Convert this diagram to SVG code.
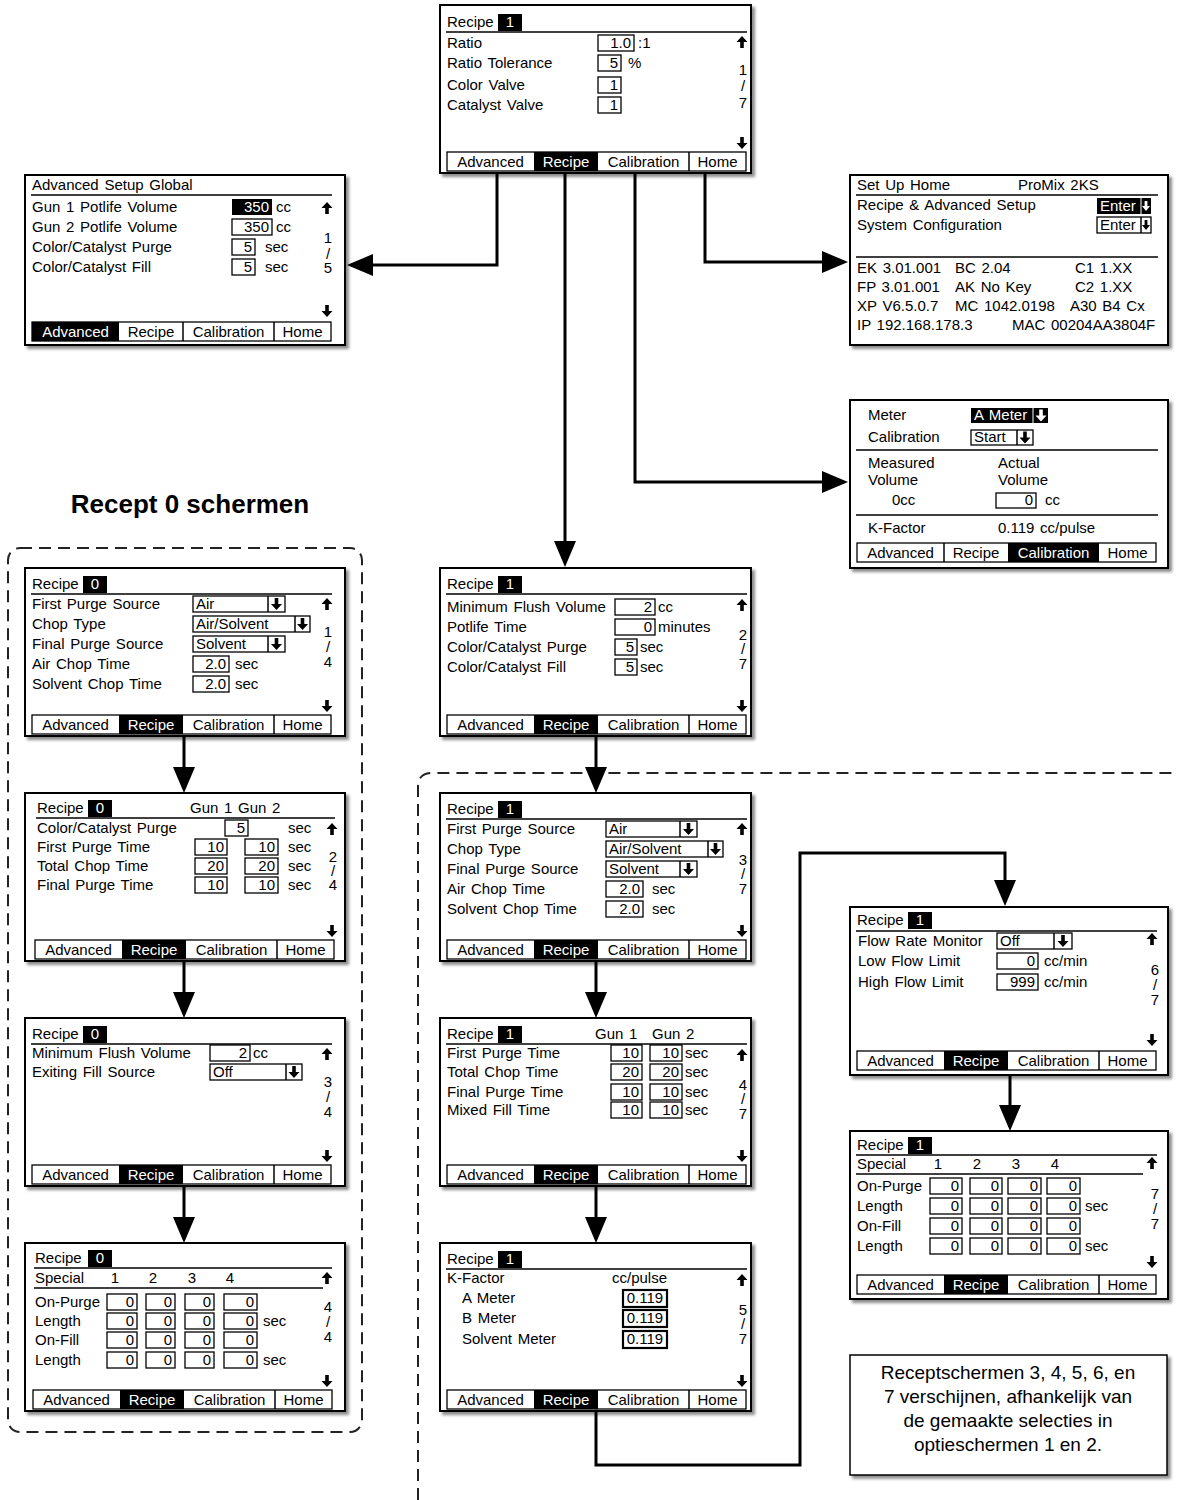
<svg xmlns="http://www.w3.org/2000/svg" width="1177" height="1500" viewBox="0 0 1177 1500">
<defs>
<style>
text{font-family:"Liberation Sans",Arial,sans-serif;font-size:15px;fill:#000;word-spacing:1.5px}
.w{fill:#fff}
.r{text-anchor:end}
.m{text-anchor:middle}
.scr{fill:#fff;stroke:#000;stroke-width:2;filter:url(#sh)}
.bx{fill:#fff;stroke:#000;stroke-width:1.3}
.bx2{fill:#fff;stroke:#000;stroke-width:2.2}
.ln{stroke:#000;stroke-width:1.5;fill:none}
.con{fill:none;stroke:#000;stroke-width:3;marker-end:url(#ah)}
.dash{fill:none;stroke:#222;stroke-width:2;stroke-dasharray:12 7}
.big{font-size:26px;font-weight:bold;word-spacing:0}
.note{font-size:19px;word-spacing:0}
</style>
<filter id="sh" x="-5%" y="-5%" width="115%" height="115%">
<feDropShadow dx="3" dy="3" stdDeviation="1.8" flood-color="#000" flood-opacity="0.45"/>
</filter>
<marker id="ah" viewBox="0 0 26 22" refX="22" refY="11" markerWidth="26" markerHeight="22" markerUnits="userSpaceOnUse" orient="auto">
<path d="M0,0 L26,11 L0,22 Z" fill="#000"/>
</marker>
<path id="up" d="M0,0 L5.5,6 L1.8,6 L1.8,12 L-1.8,12 L-1.8,6 L-5.5,6 Z"/>
<path id="dn" d="M0,12 L5.5,6 L1.8,6 L1.8,0 L-1.8,0 L-1.8,6 L-5.5,6 Z"/>
<path id="dn2" d="M0,10 L4,5 L1.4,5 L1.4,0 L-1.4,0 L-1.4,5 L-4,5 Z"/>
<g id="ttl0"><text x="7" y="21">Recipe</text><rect x="58" y="8" width="24" height="17"/><text x="70" y="21" class="m w">0</text><line x1="6" y1="26" x2="307" y2="26" class="ln"/></g>
<g id="ttl1"><text x="7" y="21">Recipe</text><rect x="58" y="8" width="24" height="17"/><text x="70" y="21" class="m w">1</text><line x1="6" y1="26" x2="307" y2="26" class="ln"/></g>
<g id="tabsR">
<rect x="7" y="147" width="299" height="19" class="bx"/>
<rect x="94" y="147" width="64" height="19"/>
<line x1="249" y1="147" x2="249" y2="166" class="ln"/>
<text x="50.5" y="162" class="m">Advanced</text>
<text x="126" y="162" class="m w">Recipe</text>
<text x="203.5" y="162" class="m">Calibration</text>
<text x="277.5" y="162" class="m">Home</text>
</g>
<g id="tabsA">
<rect x="7" y="147" width="299" height="19" class="bx"/>
<rect x="7" y="147" width="87" height="19"/>
<line x1="158" y1="147" x2="158" y2="166" class="ln"/>
<line x1="249" y1="147" x2="249" y2="166" class="ln"/>
<text x="50.5" y="162" class="m w">Advanced</text>
<text x="126" y="162" class="m">Recipe</text>
<text x="203.5" y="162" class="m">Calibration</text>
<text x="277.5" y="162" class="m">Home</text>
</g>
<g id="tabsC">
<rect x="7" y="147" width="299" height="19" class="bx"/>
<rect x="158" y="147" width="91" height="19"/>
<line x1="94" y1="147" x2="94" y2="166" class="ln"/>
<text x="50.5" y="162" class="m">Advanced</text>
<text x="126" y="162" class="m">Recipe</text>
<text x="203.5" y="162" class="m w">Calibration</text>
<text x="277.5" y="162" class="m">Home</text>
</g>
</defs>

<rect width="1177" height="1500" fill="#fff"/>

<g id="groups">
<rect class="dash" x="8" y="548" width="354" height="884" rx="12"/>
<path class="dash" d="M418,1500 V787 Q418,773 432,773 H1177"/>
<text x="190" y="513" class="big m">Recept 0 schermen</text>
</g>

<g id="connectors">
<path class="con" d="M497,173 V265 H351"/>
<path class="con" d="M565,173 V563"/>
<path class="con" d="M635,173 V482 H844"/>
<path class="con" d="M705,173 V262 H844"/>
<path class="con" d="M184,736 V789"/>
<path class="con" d="M184,961 V1014"/>
<path class="con" d="M184,1186 V1239"/>
<path class="con" d="M596,736 V789"/>
<path class="con" d="M596,961 V1014"/>
<path class="con" d="M596,1186 V1239"/>
<path class="con" d="M596,1411 V1465 H800 V853 H1005 V902"/>
<path class="con" d="M1010,1075 V1127"/>
</g>

<g id="scr-top" transform="translate(440,5)">
<rect class="scr" width="311" height="168"/>
<text x="7" y="22">Recipe</text><rect x="58" y="9" width="24" height="17"/><text x="70" y="22" class="m w">1</text>
<line x1="6" y1="27" x2="307" y2="27" class="ln"/>
<text x="7" y="43">Ratio</text>
<rect x="158" y="30" width="36" height="16" class="bx"/><text x="191" y="43" class="r">1.0</text><text x="198" y="43">:1</text>
<text x="7" y="63">Ratio Tolerance</text>
<rect x="158" y="50" width="23" height="16" class="bx"/><text x="178" y="63" class="r">5</text><text x="188" y="63">%</text>
<text x="7" y="85">Color Valve</text>
<rect x="158" y="72" width="23" height="16" class="bx"/><text x="178" y="85" class="r">1</text>
<text x="7" y="105">Catalyst Valve</text>
<rect x="158" y="92" width="23" height="16" class="bx"/><text x="178" y="105" class="r">1</text>
<use href="#up" x="302" y="31"/><use href="#dn" x="302" y="132"/>
<text x="303" y="70" class="m">1</text><text x="303" y="86" class="m">/</text><text x="303" y="103" class="m">7</text>
<use href="#tabsR"/>
</g>

<g id="scr-adv" transform="translate(25,175)">
<rect class="scr" width="320" height="170"/>
<text x="7" y="15">Advanced Setup Global</text>
<line x1="6" y1="20" x2="307" y2="20" class="ln"/>
<text x="7" y="37">Gun 1 Potlife Volume</text>
<rect x="207" y="24" width="40" height="16"/><text x="244" y="37" class="r w">350</text><text x="251" y="37">cc</text>
<text x="7" y="57">Gun 2 Potlife Volume</text>
<rect x="207" y="44" width="40" height="16" class="bx"/><text x="244" y="57" class="r">350</text><text x="251" y="57">cc</text>
<text x="7" y="77">Color/Catalyst Purge</text>
<rect x="207" y="64" width="23" height="16" class="bx"/><text x="227" y="77" class="r">5</text><text x="240" y="77">sec</text>
<text x="7" y="97">Color/Catalyst Fill</text>
<rect x="207" y="84" width="23" height="16" class="bx"/><text x="227" y="97" class="r">5</text><text x="240" y="97">sec</text>
<use href="#up" x="302" y="27"/><use href="#dn" x="302" y="130"/>
<text x="303" y="68" class="m">1</text><text x="303" y="84" class="m">/</text><text x="303" y="98" class="m">5</text>
<use href="#tabsA"/>
</g>

<g id="scr-home" transform="translate(850,175)">
<rect class="scr" width="318" height="170"/>
<text x="7" y="15">Set Up Home</text><text x="168" y="15">ProMix 2KS</text>
<line x1="6" y1="20" x2="308" y2="20" class="ln"/>
<text x="7" y="35">Recipe &amp; Advanced Setup</text>
<rect x="247" y="23" width="54" height="16"/><text x="250" y="36" class="w">Enter</text>
<line x1="291" y1="23" x2="291" y2="39" stroke="#fff" stroke-width="1"/><use href="#dn2" x="296" y="26" fill="#fff"/>
<text x="7" y="55">System Configuration</text>
<rect x="247" y="42" width="54" height="16" class="bx"/><text x="250" y="55">Enter</text>
<line x1="291" y1="42" x2="291" y2="58" class="ln"/><use href="#dn2" x="296" y="45"/>
<line x1="6" y1="82" x2="308" y2="82" class="ln"/>
<text x="7" y="98">EK 3.01.001</text><text x="105" y="98">BC 2.04</text><text x="225" y="98">C1 1.XX</text>
<text x="7" y="117">FP 3.01.001</text><text x="105" y="117">AK No Key</text><text x="225" y="117">C2 1.XX</text>
<text x="7" y="136">XP V6.5.0.7</text><text x="105" y="136">MC 1042.0198</text><text x="220" y="136">A30 B4 Cx</text>
<text x="7" y="155">IP 192.168.178.3</text><text x="162" y="155">MAC 00204AA3804F</text>
</g>

<g id="scr-cal" transform="translate(850,400)">
<rect class="scr" width="318" height="168"/>
<text x="18" y="20">Meter</text>
<rect x="121" y="8" width="77" height="15"/><text x="124" y="20" class="w">A Meter</text>
<line x1="183" y1="8" x2="183" y2="23" stroke="#fff" stroke-width="1"/><use href="#dn" x="191" y="9.5" fill="#fff"/>
<text x="18" y="42">Calibration</text>
<rect x="121" y="30" width="62" height="15" class="bx"/><text x="124" y="42">Start</text>
<line x1="167" y1="30" x2="167" y2="45" class="ln"/><use href="#dn" x="175" y="31.5"/>
<line x1="6" y1="50" x2="308" y2="50" class="ln"/>
<text x="18" y="68">Measured</text><text x="18" y="85">Volume</text>
<text x="148" y="68">Actual</text><text x="148" y="85">Volume</text>
<text x="42" y="105">0cc</text>
<rect x="146" y="93" width="40" height="15" class="bx"/><text x="183" y="105" class="r">0</text><text x="195" y="105">cc</text>
<line x1="6" y1="115" x2="308" y2="115" class="ln"/>
<text x="18" y="133">K-Factor</text><text x="148" y="133">0.119 cc/pulse</text>
<use href="#tabsC" y="-4"/>
</g>

<g id="scr-r0-p1" transform="translate(25,568)">
<rect class="scr" width="320" height="168"/>
<use href="#ttl0"/>
<text x="7" y="41">First Purge Source</text>
<rect x="168" y="28" width="92" height="16" class="bx"/><text x="171" y="41">Air</text><line x1="243" y1="28" x2="243" y2="44" class="ln"/><use href="#dn" x="251.5" y="30"/>
<text x="7" y="61">Chop Type</text>
<rect x="168" y="48" width="117" height="16" class="bx"/><text x="171" y="61">Air/Solvent</text><line x1="270" y1="48" x2="270" y2="64" class="ln"/><use href="#dn" x="277.5" y="50"/>
<text x="7" y="81">Final Purge Source</text>
<rect x="168" y="68" width="92" height="16" class="bx"/><text x="171" y="81">Solvent</text><line x1="243" y1="68" x2="243" y2="84" class="ln"/><use href="#dn" x="251.5" y="70"/>
<text x="7" y="101">Air Chop Time</text>
<rect x="168" y="88" width="36" height="16" class="bx"/><text x="201" y="101" class="r">2.0</text><text x="210" y="101">sec</text>
<text x="7" y="121">Solvent Chop Time</text>
<rect x="168" y="108" width="36" height="16" class="bx"/><text x="201" y="121" class="r">2.0</text><text x="210" y="121">sec</text>
<use href="#up" x="302" y="30"/><use href="#dn" x="302" y="132"/>
<text x="303" y="69" class="m">1</text><text x="303" y="84" class="m">/</text><text x="303" y="99" class="m">4</text>
<use href="#tabsR"/>
</g>

<g id="scr-r0-p2" transform="translate(25,793)">
<rect class="scr" width="320" height="168"/>
<text x="12" y="20">Recipe</text><rect x="63" y="7" width="24" height="17"/><text x="75" y="20" class="m w">0</text>
<text x="165" y="20">Gun 1 Gun 2</text>
<line x1="11" y1="25" x2="310" y2="25" class="ln"/>
<text x="12" y="40">Color/Catalyst Purge</text>
<rect x="200" y="27" width="23" height="16" class="bx"/><text x="220" y="40" class="r">5</text><text x="263" y="40">sec</text>
<text x="12" y="59">First Purge Time</text>
<rect x="170" y="46" width="32" height="16" class="bx"/><text x="199" y="59" class="r">10</text>
<rect x="220" y="46" width="33" height="16" class="bx"/><text x="250" y="59" class="r">10</text><text x="263" y="59">sec</text>
<text x="12" y="78">Total Chop Time</text>
<rect x="170" y="65" width="32" height="16" class="bx"/><text x="199" y="78" class="r">20</text>
<rect x="220" y="65" width="33" height="16" class="bx"/><text x="250" y="78" class="r">20</text><text x="263" y="78">sec</text>
<text x="12" y="97">Final Purge Time</text>
<rect x="170" y="84" width="32" height="16" class="bx"/><text x="199" y="97" class="r">10</text>
<rect x="220" y="84" width="33" height="16" class="bx"/><text x="250" y="97" class="r">10</text><text x="263" y="97">sec</text>
<use href="#up" x="307" y="30"/><use href="#dn" x="307" y="132"/>
<text x="308" y="69" class="m">2</text><text x="308" y="83" class="m">/</text><text x="308" y="97" class="m">4</text>
<use href="#tabsR" x="3"/>
</g>

<g id="scr-r0-p3" transform="translate(25,1018)">
<rect class="scr" width="320" height="168"/>
<use href="#ttl0"/>
<text x="7" y="40">Minimum Flush Volume</text>
<rect x="185" y="27" width="40" height="16" class="bx"/><text x="222" y="40" class="r">2</text><text x="228" y="40">cc</text>
<text x="7" y="59">Exiting Fill Source</text>
<rect x="185" y="46" width="92" height="16" class="bx"/><text x="188" y="59">Off</text><line x1="261" y1="46" x2="261" y2="62" class="ln"/><use href="#dn" x="269" y="48"/>
<use href="#up" x="302" y="30"/><use href="#dn" x="302" y="132"/>
<text x="303" y="69" class="m">3</text><text x="303" y="84" class="m">/</text><text x="303" y="99" class="m">4</text>
<use href="#tabsR"/>
</g>

<g id="scr-r0-p4" transform="translate(25,1243)">
<rect class="scr" width="320" height="168"/>
<text x="10" y="20">Recipe</text><rect x="63" y="7" width="24" height="17"/><text x="75" y="20" class="m w">0</text>
<line x1="9" y1="25" x2="307" y2="25" class="ln"/>
<text x="10" y="40">Special</text>
<text x="90" y="40" class="m">1</text><text x="128" y="40" class="m">2</text><text x="167" y="40" class="m">3</text><text x="205" y="40" class="m">4</text>
<line x1="9" y1="45" x2="298" y2="45" class="ln"/>
<text x="10" y="64">On-Purge</text>
<rect x="82" y="51" width="30" height="16" class="bx"/><text x="109" y="64" class="r">0</text>
<rect x="121" y="51" width="29" height="16" class="bx"/><text x="147" y="64" class="r">0</text>
<rect x="160" y="51" width="29" height="16" class="bx"/><text x="186" y="64" class="r">0</text>
<rect x="199" y="51" width="33" height="16" class="bx"/><text x="229" y="64" class="r">0</text>
<text x="10" y="83">Length</text>
<rect x="82" y="70" width="30" height="16" class="bx"/><text x="109" y="83" class="r">0</text>
<rect x="121" y="70" width="29" height="16" class="bx"/><text x="147" y="83" class="r">0</text>
<rect x="160" y="70" width="29" height="16" class="bx"/><text x="186" y="83" class="r">0</text>
<rect x="199" y="70" width="33" height="16" class="bx"/><text x="229" y="83" class="r">0</text><text x="238" y="83">sec</text>
<text x="10" y="102">On-Fill</text>
<rect x="82" y="89" width="30" height="16" class="bx"/><text x="109" y="102" class="r">0</text>
<rect x="121" y="89" width="29" height="16" class="bx"/><text x="147" y="102" class="r">0</text>
<rect x="160" y="89" width="29" height="16" class="bx"/><text x="186" y="102" class="r">0</text>
<rect x="199" y="89" width="33" height="16" class="bx"/><text x="229" y="102" class="r">0</text>
<text x="10" y="122">Length</text>
<rect x="82" y="109" width="30" height="16" class="bx"/><text x="109" y="122" class="r">0</text>
<rect x="121" y="109" width="29" height="16" class="bx"/><text x="147" y="122" class="r">0</text>
<rect x="160" y="109" width="29" height="16" class="bx"/><text x="186" y="122" class="r">0</text>
<rect x="199" y="109" width="33" height="16" class="bx"/><text x="229" y="122" class="r">0</text><text x="238" y="122">sec</text>
<use href="#up" x="302" y="29"/><use href="#dn" x="302" y="132"/>
<text x="303" y="69" class="m">4</text><text x="303" y="84" class="m">/</text><text x="303" y="99" class="m">4</text>
<use href="#tabsR" x="1"/>
</g>

<g id="scr-r1-p2" transform="translate(440,568)">
<rect class="scr" width="311" height="168"/>
<use href="#ttl1"/>
<text x="7" y="44">Minimum Flush Volume</text>
<rect x="175" y="31" width="40" height="16" class="bx"/><text x="212" y="44" class="r">2</text><text x="218" y="44">cc</text>
<text x="7" y="64">Potlife Time</text>
<rect x="175" y="51" width="40" height="16" class="bx"/><text x="212" y="64" class="r">0</text><text x="218" y="64">minutes</text>
<text x="7" y="84">Color/Catalyst Purge</text>
<rect x="175" y="71" width="22" height="16" class="bx"/><text x="194" y="84" class="r">5</text><text x="200" y="84">sec</text>
<text x="7" y="104">Color/Catalyst Fill</text>
<rect x="175" y="91" width="22" height="16" class="bx"/><text x="194" y="104" class="r">5</text><text x="200" y="104">sec</text>
<use href="#up" x="302" y="31"/><use href="#dn" x="302" y="132"/>
<text x="303" y="72" class="m">2</text><text x="303" y="86" class="m">/</text><text x="303" y="101" class="m">7</text>
<use href="#tabsR"/>
</g>

<g id="scr-r1-p3" transform="translate(440,793)">
<rect class="scr" width="311" height="168"/>
<use href="#ttl1"/>
<text x="7" y="41">First Purge Source</text>
<rect x="166" y="28" width="91" height="16" class="bx"/><text x="169" y="41">Air</text><line x1="240" y1="28" x2="240" y2="44" class="ln"/><use href="#dn" x="248.5" y="30"/>
<text x="7" y="61">Chop Type</text>
<rect x="166" y="48" width="117" height="16" class="bx"/><text x="169" y="61">Air/Solvent</text><line x1="268" y1="48" x2="268" y2="64" class="ln"/><use href="#dn" x="275.5" y="50"/>
<text x="7" y="81">Final Purge Source</text>
<rect x="166" y="68" width="91" height="16" class="bx"/><text x="169" y="81">Solvent</text><line x1="240" y1="68" x2="240" y2="84" class="ln"/><use href="#dn" x="248.5" y="70"/>
<text x="7" y="101">Air Chop Time</text>
<rect x="166" y="88" width="37" height="16" class="bx"/><text x="200" y="101" class="r">2.0</text><text x="212" y="101">sec</text>
<text x="7" y="121">Solvent Chop Time</text>
<rect x="166" y="108" width="37" height="16" class="bx"/><text x="200" y="121" class="r">2.0</text><text x="212" y="121">sec</text>
<use href="#up" x="302" y="30"/><use href="#dn" x="302" y="132"/>
<text x="303" y="72" class="m">3</text><text x="303" y="86" class="m">/</text><text x="303" y="101" class="m">7</text>
<use href="#tabsR"/>
</g>

<g id="scr-r1-p4" transform="translate(440,1018)">
<rect class="scr" width="311" height="168"/>
<use href="#ttl1"/>
<text x="155" y="21">Gun 1</text><text x="212" y="21">Gun 2</text>
<text x="7" y="40">First Purge Time</text>
<rect x="171" y="27" width="31" height="16" class="bx"/><text x="199" y="40" class="r">10</text>
<rect x="210" y="27" width="32" height="16" class="bx"/><text x="239" y="40" class="r">10</text><text x="245" y="40">sec</text>
<text x="7" y="59">Total Chop Time</text>
<rect x="171" y="46" width="31" height="16" class="bx"/><text x="199" y="59" class="r">20</text>
<rect x="210" y="46" width="32" height="16" class="bx"/><text x="239" y="59" class="r">20</text><text x="245" y="59">sec</text>
<text x="7" y="79">Final Purge Time</text>
<rect x="171" y="66" width="31" height="16" class="bx"/><text x="199" y="79" class="r">10</text>
<rect x="210" y="66" width="32" height="16" class="bx"/><text x="239" y="79" class="r">10</text><text x="245" y="79">sec</text>
<text x="7" y="97">Mixed Fill Time</text>
<rect x="171" y="84" width="31" height="16" class="bx"/><text x="199" y="97" class="r">10</text>
<rect x="210" y="84" width="32" height="16" class="bx"/><text x="239" y="97" class="r">10</text><text x="245" y="97">sec</text>
<use href="#up" x="302" y="31"/><use href="#dn" x="302" y="132"/>
<text x="303" y="72" class="m">4</text><text x="303" y="86" class="m">/</text><text x="303" y="101" class="m">7</text>
<use href="#tabsR"/>
</g>

<g id="scr-r1-p5" transform="translate(440,1243)">
<rect class="scr" width="311" height="168"/>
<use href="#ttl1"/>
<text x="7" y="40">K-Factor</text><text x="172" y="40">cc/pulse</text>
<text x="22" y="60">A Meter</text>
<rect x="183" y="47" width="44" height="17" class="bx2"/><text x="205" y="60" class="m">0.119</text>
<text x="22" y="80">B Meter</text>
<rect x="183" y="67" width="44" height="17" class="bx2"/><text x="205" y="80" class="m">0.119</text>
<text x="22" y="101">Solvent Meter</text>
<rect x="183" y="88" width="44" height="17" class="bx2"/><text x="205" y="101" class="m">0.119</text>
<use href="#up" x="302" y="31"/><use href="#dn" x="302" y="132"/>
<text x="303" y="72" class="m">5</text><text x="303" y="86" class="m">/</text><text x="303" y="101" class="m">7</text>
<use href="#tabsR"/>
</g>

<g id="scr-r1-p6" transform="translate(850,907)">
<rect class="scr" width="318" height="168"/>
<text x="7" y="18">Recipe</text><rect x="58" y="5" width="24" height="17"/><text x="70" y="18" class="m w">1</text>
<line x1="6" y1="24" x2="307" y2="24" class="ln"/>
<text x="8" y="39">Flow Rate Monitor</text>
<rect x="147" y="26" width="75" height="16" class="bx"/><text x="150" y="39">Off</text><line x1="204" y1="26" x2="204" y2="42" class="ln"/><use href="#dn" x="213" y="28"/>
<text x="8" y="59">Low Flow Limit</text>
<rect x="147" y="46" width="41" height="16" class="bx"/><text x="185" y="59" class="r">0</text><text x="194" y="59">cc/min</text>
<text x="8" y="80">High Flow Limit</text>
<rect x="147" y="67" width="41" height="16" class="bx"/><text x="185" y="80" class="r">999</text><text x="194" y="80">cc/min</text>
<use href="#up" x="302" y="26"/><use href="#dn" x="302" y="127"/>
<text x="305" y="68" class="m">6</text><text x="305" y="83" class="m">/</text><text x="305" y="98" class="m">7</text>
<use href="#tabsR" y="-3"/>
</g>

<g id="scr-r1-p7" transform="translate(850,1131)">
<rect class="scr" width="318" height="168"/>
<text x="7" y="19">Recipe</text><rect x="58" y="6" width="24" height="17"/><text x="70" y="19" class="m w">1</text>
<line x1="6" y1="24" x2="307" y2="24" class="ln"/>
<text x="7" y="38">Special</text>
<text x="88" y="38" class="m">1</text><text x="127" y="38" class="m">2</text><text x="166" y="38" class="m">3</text><text x="205" y="38" class="m">4</text>
<line x1="6" y1="43" x2="293" y2="43" class="ln"/>
<text x="7" y="60">On-Purge</text>
<rect x="80" y="47" width="32" height="16" class="bx"/><text x="109" y="60" class="r">0</text>
<rect x="120" y="47" width="32" height="16" class="bx"/><text x="149" y="60" class="r">0</text>
<rect x="158" y="47" width="33" height="16" class="bx"/><text x="188" y="60" class="r">0</text>
<rect x="197" y="47" width="33" height="16" class="bx"/><text x="227" y="60" class="r">0</text>
<text x="7" y="80">Length</text>
<rect x="80" y="67" width="32" height="16" class="bx"/><text x="109" y="80" class="r">0</text>
<rect x="120" y="67" width="32" height="16" class="bx"/><text x="149" y="80" class="r">0</text>
<rect x="158" y="67" width="33" height="16" class="bx"/><text x="188" y="80" class="r">0</text>
<rect x="197" y="67" width="33" height="16" class="bx"/><text x="227" y="80" class="r">0</text><text x="235" y="80">sec</text>
<text x="7" y="100">On-Fill</text>
<rect x="80" y="87" width="32" height="16" class="bx"/><text x="109" y="100" class="r">0</text>
<rect x="120" y="87" width="32" height="16" class="bx"/><text x="149" y="100" class="r">0</text>
<rect x="158" y="87" width="33" height="16" class="bx"/><text x="188" y="100" class="r">0</text>
<rect x="197" y="87" width="33" height="16" class="bx"/><text x="227" y="100" class="r">0</text>
<text x="7" y="120">Length</text>
<rect x="80" y="107" width="32" height="16" class="bx"/><text x="109" y="120" class="r">0</text>
<rect x="120" y="107" width="32" height="16" class="bx"/><text x="149" y="120" class="r">0</text>
<rect x="158" y="107" width="33" height="16" class="bx"/><text x="188" y="120" class="r">0</text>
<rect x="197" y="107" width="33" height="16" class="bx"/><text x="227" y="120" class="r">0</text><text x="235" y="120">sec</text>
<use href="#up" x="302" y="26"/><use href="#dn" x="302" y="125"/>
<text x="305" y="68" class="m">7</text><text x="305" y="83" class="m">/</text><text x="305" y="98" class="m">7</text>
<use href="#tabsR" y="-3"/>
</g>

<g id="note">
<rect x="850" y="1355" width="317" height="120" fill="#fff" stroke="#000" stroke-width="1.5" filter="url(#sh)"/>
<text x="1008" y="1379" class="note m">Receptschermen 3, 4, 5, 6, en</text>
<text x="1008" y="1403" class="note m">7 verschijnen, afhankelijk van</text>
<text x="1008" y="1427" class="note m">de gemaakte selecties in</text>
<text x="1008" y="1451" class="note m">optieschermen 1 en 2.</text>
</g>
</svg>
